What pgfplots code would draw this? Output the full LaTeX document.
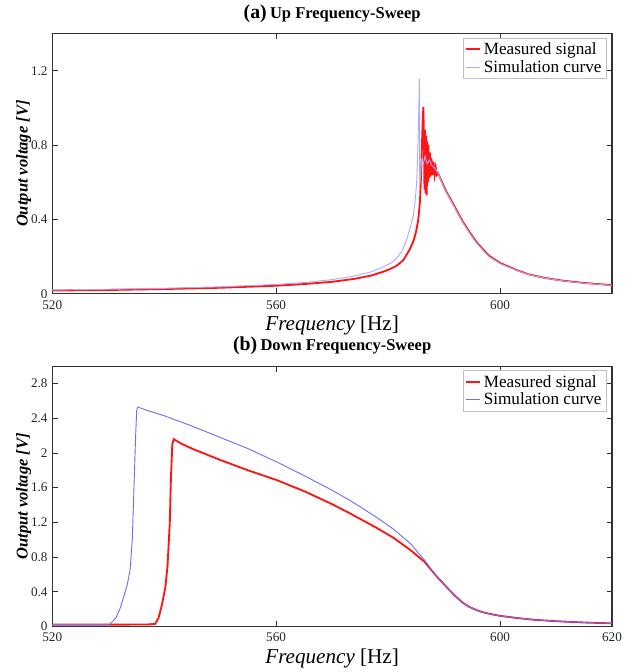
\documentclass[border=0pt]{standalone}
\usepackage{fontspec}
\setmainfont{Liberation Serif}
\usepackage{pgfplots}
\pgfplotsset{compat=1.18}
\definecolor{meas}{RGB}{255,20,20}
\definecolor{simtop}{RGB}{170,170,255}
\definecolor{simbot}{RGB}{110,110,250}
\begin{document}
\begin{tikzpicture}
\pgfplotsset{
  every axis/.append style={
    scale only axis, width=424pt, height=197pt,
    xmin=520, xmax=620, ymin=0,
    axis line style={black!80, line width=0.9pt},
    tick align=inside, major tick length=4pt,
    tick style={black!80, line width=0.7pt},
    ticklabel style={font=\fontsize{10}{12}\selectfont, text=black!85},
    xticklabel style={yshift=-1.5pt},
    /pgf/number format/assume math mode=true,
    xlabel={\textit{Frequency} [Hz]},
    xlabel style={font=\fontsize{16}{18}\selectfont, yshift=2pt},
    ylabel={Output voltage [V]},
    ylabel style={font=\fontsize{12.5}{14}\selectfont\bfseries\itshape, yshift=-7pt},
    title style={yshift=-1pt},
    legend cell align=left,
    legend style={at={(rel axis cs:0.99,0.985)}, anchor=north east,
      draw=black!25, fill=white, font=\fontsize{13}{15}\selectfont,
      inner sep=1.5pt, row sep=-1pt},
    legend image code/.code={\draw[#1] (0pt,0pt) -- (11pt,0pt);},
  }
}
% (a) up sweep
\begin{axis}[
  at={(0,252pt)}, anchor=south west,
  ymax=1.4, ytick={0,0.4,0.8,1.2},
  xtick={520,560,600},
  title={\bfseries{\fontsize{15}{17}\selectfont (a)} {\fontsize{12.5}{15}\selectfont Up Frequency-Sweep}},
]
\addplot[meas, line width=1.4pt] coordinates {
(520,0.017) (530,0.020) (540,0.025) (550,0.032) (560,0.043) (565,0.052)
(570,0.064) (574,0.080) (577,0.098) (579,0.117) (580.5,0.135) (581.5,0.150)
(582.7,0.180) (583.9,0.240) (584.6,0.290) (585.0,0.335) (585.4,0.400)
(585.7,0.500) (585.9,0.650) (586.05,0.800) (586.2,0.950) (586.3,1.005)
(586.4,0.82) (586.5,0.56) (586.6,0.88) (586.7,0.54) (586.8,0.85) (586.9,0.53)
(587.0,0.82) (587.1,0.60) (587.2,0.80) (587.3,0.62) (587.45,0.76) (587.6,0.63)
(587.75,0.73) (587.9,0.64) (588.1,0.71) (588.3,0.64) (588.5,0.68) (588.7,0.64)
(588.9,0.65) (589.5,0.61) (590.3,0.555) (591.5,0.49) (593.3,0.39) (594.8,0.32)
(596,0.27) (598,0.205) (600,0.165) (603,0.127) (605,0.105) (608,0.085)
(611,0.071) (615,0.058) (620,0.046)
};
\addlegendentry{Measured signal}
\addplot[simtop, line width=0.7pt] coordinates {
(520,0.020) (530,0.024) (540,0.029) (550,0.037) (560,0.050) (565,0.060)
(570,0.076) (574,0.095) (577,0.118) (579,0.142) (580.5,0.165) (581.5,0.190)
(582.5,0.230) (583.3,0.290) (584,0.360) (584.5,0.420) (584.9,0.520)
(585.1,0.600) (585.3,0.760) (585.45,0.950) (585.6,1.156) (585.65,0.580)
(585.8,0.640) (586.0,0.720) (586.3,0.700) (586.6,0.740) (587.0,0.700)
(587.4,0.720) (587.8,0.690) (588.2,0.680) (588.6,0.665) (589.0,0.645)
(589.5,0.605) (590.3,0.550) (591.5,0.485) (593.3,0.385) (594.8,0.315)
(596,0.265) (598,0.200) (600,0.162) (603,0.125) (605,0.104) (608,0.084)
(611,0.070) (615,0.057) (620,0.045)
};
\addlegendentry{Simulation curve}
\end{axis}
% (b) down sweep
\begin{axis}[
  at={(0,0)}, anchor=south west,
  ymax=3, ytick={0,0.4,0.8,1.2,1.6,2,2.4,2.8},
  xtick={520,560,600,620},
  title={\bfseries{\fontsize{15}{17}\selectfont (b)} {\fontsize{12.5}{15}\selectfont Down Frequency-Sweep}},
]
\addplot[meas, line width=1.4pt] coordinates {
(520,0.02) (530,0.02) (537,0.022) (538.4,0.03) (539.0,0.10) (539.6,0.25)
(540.2,0.45) (540.6,0.70) (541.0,1.20) (541.2,1.70) (541.45,2.10) (541.7,2.16)
(543,2.11) (545,2.05) (550,1.92) (555,1.80) (560,1.69) (565,1.56) (570,1.41)
(573,1.31) (575,1.24) (578,1.135) (581,1.02) (584,0.88) (586.5,0.745)
(588.5,0.59) (590.5,0.45) (592,0.35) (593.3,0.275) (594.5,0.225) (595.7,0.19)
(597,0.162) (598.5,0.14) (600,0.122) (603,0.097) (606,0.077) (610,0.06)
(615,0.045) (620,0.035)
};
\addlegendentry{Measured signal}
\addplot[simbot, line width=0.7pt] coordinates {
(520,0.02) (529,0.02) (530.3,0.025) (531.4,0.10) (532.2,0.22) (532.8,0.35)
(533.4,0.48) (533.9,0.65) (534.3,1.00) (534.6,1.60) (534.9,2.20) (535.1,2.50)
(535.3,2.53) (537,2.49) (540,2.43) (545,2.31) (550,2.18) (555,2.05) (560,1.90)
(565,1.74) (570,1.57) (573,1.46) (575,1.38) (578,1.255) (581,1.12) (584,0.955)
(586.5,0.765) (588.5,0.59) (590.5,0.45) (592,0.35) (593.3,0.275) (594.5,0.225)
(595.7,0.19) (597,0.162) (598.5,0.14) (600,0.122) (603,0.097) (606,0.077)
(610,0.06) (615,0.045) (620,0.035)
};
\addlegendentry{Simulation curve}
\end{axis}
\path (current bounding box.north east) ++(10pt,0pt);
\path (current bounding box.south west) ++(-9pt,0pt);
\end{tikzpicture}
\end{document}
